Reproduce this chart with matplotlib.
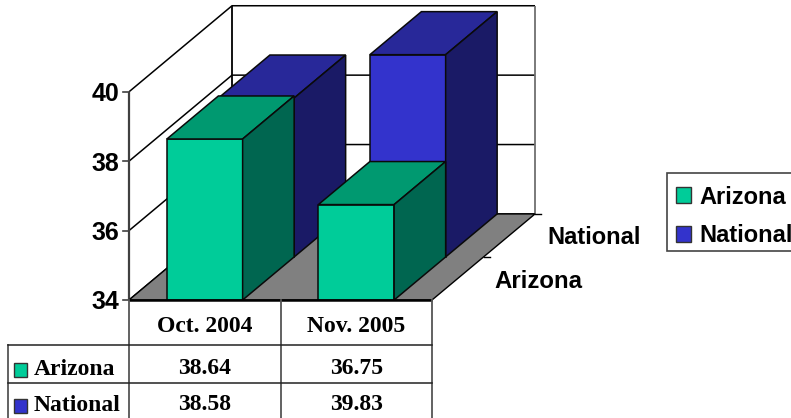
import matplotlib
matplotlib.use("Agg")
import matplotlib.pyplot as plt
from matplotlib.patches import Rectangle

categories = ["Oct. 2004", "Nov. 2005"]
series_names = ["Arizona", "National"]
arizona = [38.64, 36.75]
national = [38.58, 39.83]
arizona_txt = ["38.64", "36.75"]
national_txt = ["38.58", "39.83"]
yticks = [34, 36, 38, 40]

W, H = 791, 418
CAT_PX = 151.5     # width of a category in px
VAL_PX = 34.7      # height of one y unit in px
X0, Y0 = 129, 300  # front left corner of the floor
DX = 0.34          # depth shift of one row, in category units
DY = 1.24          # depth shift of one row, in value units
BAR = 0.5          # bar width in category units

fig = plt.figure(figsize=(W / 100, H / 100), dpi=100)

# chart axes: x in categories, y in values
ax = fig.add_axes([0, 0, 1, 1])
ax.set_xlim(-X0 / CAT_PX, (W - X0) / CAT_PX)
ax.set_ylim(34 - (H - Y0) / VAL_PX, 34 + Y0 / VAL_PX)
ax.axis("off")

# overlay axes in pixels for table and legend
px = fig.add_axes([0, 0, 1, 1])
px.set_xlim(0, W)
px.set_ylim(H, 0)
px.axis("off")
px.patch.set_alpha(0)


def proj(x, depth, v):
    return x + depth * DX, v + depth * DY


def poly(pts, color, z):
    xs = [p[0] for p in pts]
    ys = [p[1] for p in pts]
    ax.fill(xs, ys, facecolor=color, edgecolor="#0a0a0a", lw=1.1, zorder=z, joinstyle="miter")


def wall_line(pts, lw=1.1, color="black", z=1):
    ax.plot([p[0] for p in pts], [p[1] for p in pts], color=color, lw=lw, zorder=z,
            solid_capstyle="butt")


def bar3d(cat, row, val, front, top, side, z):
    x0 = cat + (1 - BAR) / 2
    x1 = x0 + BAR
    d0, d1 = row, row + 1
    poly([proj(x0, d0, 34), proj(x1, d0, 34), proj(x1, d0, val), proj(x0, d0, val)], front, z)
    poly([proj(x0, d0, val), proj(x1, d0, val), proj(x1, d1, val), proj(x0, d1, val)], top, z)
    poly([proj(x1, d0, 34), proj(x1, d1, 34), proj(x1, d1, val), proj(x1, d0, val)], side, z)


ymin, ymax = yticks[0], yticks[-1]
ncat = len(categories)

# floor
ax.fill(*zip(proj(0, 0, ymin), proj(ncat, 0, ymin), proj(ncat, 2, ymin), proj(0, 2, ymin)),
        facecolor="#808080", edgecolor="black", lw=1.0, zorder=2)

# gridlines on the walls
for t in yticks:
    wall_line([proj(0, 0, t), proj(0, 2, t), proj(ncat, 2, t)], lw=1.1)
wall_line([proj(0, 0, ymin), proj(0, 0, ymax)], lw=1.6, color="#404040")
wall_line([proj(0, 2, ymin), proj(0, 2, ymax)], lw=1.3)
wall_line([proj(ncat, 2, ymin), proj(ncat, 2, ymax)], lw=1.3, color="#707070")

# y axis ticks and labels
for t in yticks:
    ax.plot([-6 / CAT_PX, 0], [t, t], color="#404040", lw=1.2, zorder=1)
    ax.text(-10 / CAT_PX, t, str(t), ha="right", va="center_baseline", fontsize=18,
            fontweight="bold", family="Liberation Sans", color="black", zorder=5)

# bars, back row first
for i, v in enumerate(national):
    bar3d(i, 1, v, "#3333CC", "#282899", "#1A1A66", 3 + i * 0.1)
for i, v in enumerate(arizona):
    bar3d(i, 0, v, "#00CC99", "#009970", "#006650", 4 + i * 0.1)

# front edge of floor and depth axis ticks
wall_line([proj(0, 0, ymin), proj(ncat, 0, ymin)], lw=1.8, color="black", z=6)
for r in (1, 2):
    x, y = proj(ncat, r, ymin)
    ax.plot([x, x + 6 / CAT_PX], [y, y], color="black", lw=1.0, zorder=2)

# depth axis labels
px.text(547, 238, series_names[1], ha="left", va="center", fontsize=17, fontweight="bold",
        family="Liberation Sans")
px.text(494, 282, series_names[0], ha="left", va="center", fontsize=17.3, fontweight="bold",
        family="Liberation Sans")

# data table
tcol = "#555555"
px.plot([129, 129], [300, 418], color=tcol, lw=1.3)
px.plot([281, 281], [300, 418], color=tcol, lw=1.3)
px.plot([432, 432], [300, 418], color=tcol, lw=1.3)
px.plot([8, 8], [345, 418], color=tcol, lw=1.3)
px.plot([8, 432], [345, 345], color="#222222", lw=1.1)
px.plot([8, 432], [383, 383], color="#222222", lw=1.1)

cx = [204.5, 356.5]
serif = "Liberation Serif"
for c, name, a, n in zip(cx, categories, arizona_txt, national_txt):
    px.text(c, 327, name, ha="center", va="center", fontsize=17, fontweight="bold", family=serif)
    px.text(c, 369, a, ha="center", va="center", fontsize=17, fontweight="bold", family=serif)
    px.text(c, 405, n, ha="center", va="center", fontsize=17, fontweight="bold", family=serif)

for y, name, col in [(369.5, series_names[0], "#00CC99"), (405.5, series_names[1], "#3333CC")]:
    px.add_patch(Rectangle((13.5, y - 7), 13.5, 14.5, facecolor=col, edgecolor="#333333", lw=1.0))
    px.text(34, y, name, ha="left", va="center", fontsize=17, fontweight="bold", family=serif)

# legend, right side runs off the picture
px.add_patch(Rectangle((667, 173), 140, 78, facecolor="white", edgecolor="#444444", lw=1.2,
                       clip_on=True, zorder=2))
for y, name, col in [(195, series_names[0], "#00CC99"), (233.5, series_names[1], "#3333CC")]:
    px.add_patch(Rectangle((676, y - 8), 15, 16, facecolor=col, edgecolor="#333333", lw=1.0, zorder=3))
    px.text(699, y + 2, name, ha="left", va="center", fontsize=17, fontweight="bold",
            family="Liberation Sans", zorder=3)

fig.savefig("out.png", dpi=100)
